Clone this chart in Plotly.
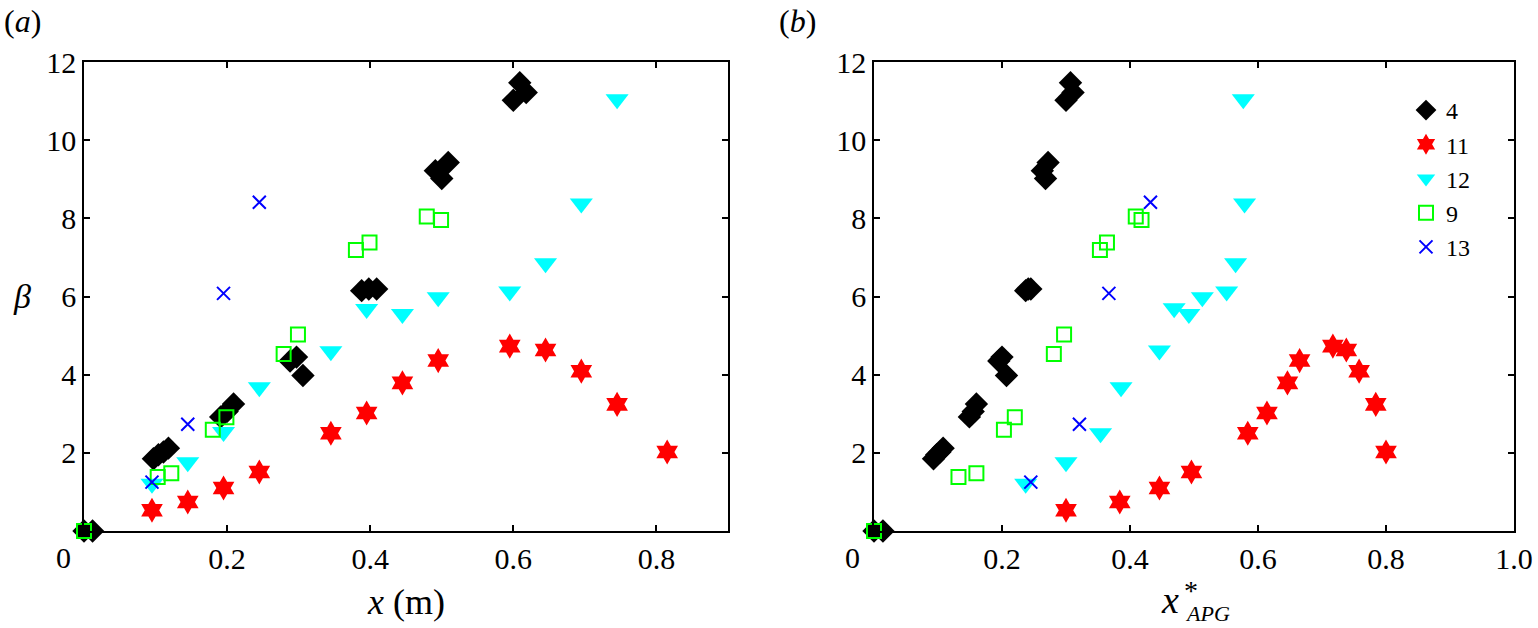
import plotly.graph_objects as go

# series names (legend order)
names = ['4', '11', '12', '9', '13']

# --- panel (a): x in metres ---
xa_4 = [0.0, 0.012, 0.097, 0.104, 0.111, 0.118, 0.191, 0.200, 0.209, 0.288, 0.297, 0.306,
        0.388, 0.398, 0.409, 0.491, 0.500, 0.509, 0.600, 0.609, 0.618]
ba_4 = [0.0, 0.0, 1.85, 1.95, 2.02, 2.12, 2.92, 3.06, 3.25, 4.35, 4.45, 3.98,
        6.15, 6.19, 6.19, 9.22, 9.02, 9.43, 11.02, 11.47, 11.22]

xa_11 = [0.095, 0.145, 0.195, 0.245, 0.345, 0.395, 0.445, 0.495, 0.595, 0.645, 0.695, 0.745, 0.815]
ba_11 = [0.53, 0.74, 1.10, 1.51, 2.50, 3.02, 3.79, 4.36, 4.73, 4.63, 4.09, 3.24, 2.02]

xa_12 = [0.095, 0.145, 0.195, 0.245, 0.345, 0.395, 0.445, 0.495, 0.595, 0.645, 0.695, 0.745]
ba_12 = [1.21, 1.76, 2.53, 3.68, 4.60, 5.68, 5.55, 5.98, 6.13, 6.85, 8.38, 11.05]

xa_9 = [0.0, 0.103, 0.122, 0.180, 0.199, 0.279, 0.299, 0.380, 0.399, 0.479, 0.499]
ba_9 = [0.0, 1.38, 1.48, 2.59, 2.91, 4.53, 5.03, 7.19, 7.38, 8.05, 7.96]

xa_13 = [0.095, 0.145, 0.195, 0.245]
ba_13 = [1.25, 2.73, 6.08, 8.41]

# --- panel (b): x*_APG ---
xb_4 = [0.0, 0.014, 0.093, 0.098, 0.103, 0.108, 0.149, 0.155, 0.160, 0.195, 0.200, 0.207,
        0.237, 0.241, 0.245, 0.263, 0.268, 0.272, 0.300, 0.307, 0.311]
bb_4 = ba_4

xb_11 = [0.300, 0.384, 0.446, 0.496, 0.584, 0.614, 0.646, 0.665, 0.717, 0.738, 0.758, 0.784, 0.800]
bb_11 = ba_11

xb_12 = [0.237, 0.300, 0.354, 0.386, 0.446, 0.469, 0.492, 0.513, 0.551, 0.565, 0.579, 0.577]
bb_12 = [1.21, 1.76, 2.50, 3.68, 4.62, 5.70, 5.55, 5.98, 6.13, 6.85, 8.38, 11.05]

xb_9 = [0.0, 0.132, 0.160, 0.203, 0.220, 0.281, 0.297, 0.353, 0.364, 0.409, 0.418]
bb_9 = ba_9

xb_13 = [0.245, 0.321, 0.367, 0.432]
bb_13 = ba_13

yticks = [2, 4, 6, 8, 10, 12]
xticks_a = [0.2, 0.4, 0.6, 0.8]
xticks_b = [0.2, 0.4, 0.6, 0.8, 1.0]
xlabels_b = ['0.2', '0.4', '0.6', '0.8', '1.0']

styles = {
    '4': dict(symbol='diamond', size=18, color='black', line=dict(width=0)),
    '11': dict(symbol='hexagram', size=19, color='red', line=dict(width=0)),
    '12': dict(symbol='triangle-down', size=20, color='cyan', line=dict(width=0)),
    '9': dict(symbol='square-open', size=14, color='#00ff00', line=dict(width=2, color='#00ff00')),
    '13': dict(symbol='x-thin-open', size=13, color='blue', line=dict(width=2, color='blue')),
}

panel_a = {'4': (xa_4, ba_4), '11': (xa_11, ba_11), '12': (xa_12, ba_12), '9': (xa_9, ba_9), '13': (xa_13, ba_13)}
panel_b = {'4': (xb_4, bb_4), '11': (xb_11, bb_11), '12': (xb_12, bb_12), '9': (xb_9, bb_9), '13': (xb_13, bb_13)}

W, H = 1538, 628
fig = go.Figure()

for n in names:
    x, y = panel_a[n]
    fig.add_trace(go.Scatter(x=x, y=y, mode='markers', marker=styles[n], xaxis='x', yaxis='y',
                             showlegend=False, cliponaxis=False))
for n in names:
    x, y = panel_b[n]
    fig.add_trace(go.Scatter(x=x, y=y, mode='markers', marker=styles[n], xaxis='x2', yaxis='y2',
                             name=n, cliponaxis=False))

font = 'Liberation Serif'
ax_common = dict(showgrid=False, zeroline=False, showline=True, linecolor='black', linewidth=1.5,
                 mirror='ticks', ticks='inside', ticklen=6, tickwidth=1.5, tickcolor='black',
                 tickfont=dict(family=font, size=30, color='black'), automargin=False)

top, bot = 62, 531
ydom = [1 - bot / H, 1 - top / H]

fig.update_layout(
    width=W, height=H,
    margin=dict(l=0, r=0, t=0, b=0),
    paper_bgcolor='white', plot_bgcolor='white',
    font=dict(family=font, color='black'),
    xaxis=dict(domain=[84 / W, 728 / W], range=[0, 0.9], tickvals=xticks_a, anchor='y', **ax_common),
    yaxis=dict(domain=ydom, range=[0, 12], tickvals=yticks, anchor='x', **ax_common),
    xaxis2=dict(domain=[874 / W, 1514 / W], range=[0, 1.0], tickvals=xticks_b, ticktext=xlabels_b,
                anchor='y2', **ax_common),
    yaxis2=dict(domain=ydom, range=[0, 12], tickvals=yticks, anchor='x2', **ax_common),
    legend=dict(x=1406 / W, y=1 - 88 / H, xanchor='left', yanchor='top',
                font=dict(family=font, size=24, color='black'),
                bgcolor='rgba(0,0,0,0)', itemsizing='trace', tracegroupgap=0),
)

ann = [
    dict(text='(<i>a</i>)', x=22, y=21, size=32),
    dict(text='(<i>b</i>)', x=797, y=21, size=32),
    dict(text='<i>β</i>', x=22, y=296, size=34),
    dict(text='0', x=63, y=557, size=30),
    dict(text='0', x=853, y=557, size=30),
    dict(text='<i>x</i> (m)', x=406, y=602, size=36),
    dict(text='<i>x</i>', x=1170, y=600, size=38),
    dict(text='*', x=1191, y=590, size=28),
    dict(text='<i>APG</i>', x=1207, y=613, size=22),
]
for a in ann:
    fig.add_annotation(text=a['text'], x=a['x'] / W, y=1 - a['y'] / H, xref='paper', yref='paper',
                       showarrow=False, xanchor='center', yanchor='middle',
                       font=dict(family=font, size=a['size'], color='black'))

fig.write_html('out.html', config={'displayModeBar': False},
               post_script="document.body.style.margin='0';")
